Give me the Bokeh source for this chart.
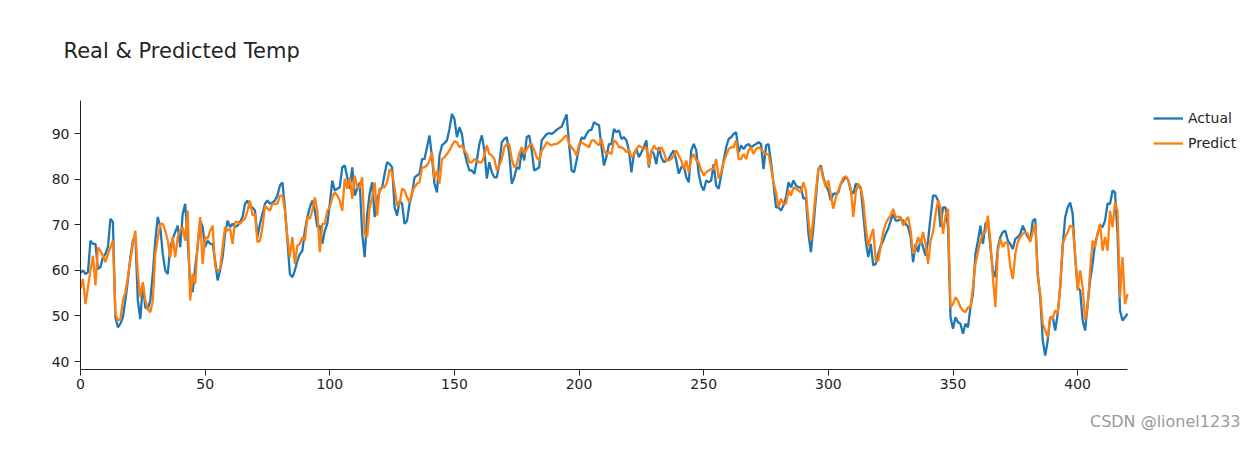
from bokeh.plotting import figure
from bokeh.models import Range1d, FixedTicker, Legend, LegendItem, Title
from bokeh.embed import file_html
from bokeh.resources import INLINE

title_text = "Real & Predicted Temp"
series_names = ["Actual", "Predict"]
x_ticks = [0, 50, 100, 150, 200, 250, 300, 350, 400]
y_ticks = [40, 50, 60, 70, 80, 90]
watermark = "CSDN @lionel1233"

actual = [
    59.4, 60.0, 59.2, 59.6, 66.5, 65.8, 65.8, 60.3, 60.7, 62.9,
    63.6, 65.1, 71.3, 70.6, 49.7, 47.5, 48.3, 49.7, 53.4, 57.8,
    62.9, 66.5, 67.6, 53.4, 49.3, 57.0, 51.9, 51.5, 53.4, 59.2,
    66.5, 71.7, 69.5, 63.6, 60.0, 59.2, 65.1, 66.9, 68.4, 69.8,
    65.1, 72.4, 74.6, 66.5, 57.0, 55.2, 60.7, 65.1, 70.9, 69.5,
    65.1, 66.5, 65.8, 65.8, 62.1, 57.8, 60.0, 62.9, 68.0, 70.9,
    69.5, 70.2, 69.5, 69.8, 70.6, 71.7, 74.6, 75.3, 73.8, 73.8,
    73.1, 67.3, 70.2, 72.4, 74.6, 75.3, 74.6, 74.9, 75.3, 76.4,
    78.6, 79.3, 73.8, 66.5, 59.2, 58.5, 60.0, 62.1, 63.6, 64.3,
    68.7, 71.7, 73.8, 75.3, 73.1, 69.5, 69.8, 65.8, 68.7, 70.2,
    74.6, 79.7, 77.5, 77.9, 78.2, 82.6, 83.0, 80.4, 77.9, 82.6,
    76.4, 77.9, 79.3, 68.0, 62.9, 72.4, 76.8, 79.3, 71.7, 75.3,
    77.5, 78.2, 81.2, 83.7, 83.3, 82.6, 73.8, 72.0, 75.3, 74.6,
    70.2, 70.9, 74.6, 76.8, 80.4, 80.8, 81.2, 84.4, 84.4, 87.0,
    89.6, 84.8, 79.0, 77.1, 85.2, 87.4, 87.9, 88.5, 91.0, 94.3,
    93.2, 89.2, 91.4, 89.9, 85.9, 83.7, 81.9, 81.9, 81.2, 84.1,
    87.7, 89.6, 86.3, 80.1, 83.7, 81.5, 80.4, 80.4, 83.3, 88.1,
    88.8, 89.2, 85.5, 79.0, 80.4, 82.6, 82.2, 86.3, 84.1, 89.2,
    89.6, 86.3, 81.9, 82.2, 82.6, 88.5, 89.2, 89.9, 90.1, 89.9,
    90.3, 90.8, 91.2, 91.5, 92.9, 94.2, 87.7, 81.9, 81.5, 84.1,
    87.0, 89.2, 88.8, 89.9, 90.7, 90.8, 92.5, 92.1, 91.8, 87.0,
    83.0, 85.0, 87.7, 87.7, 91.0, 90.3, 90.7, 88.8, 89.2, 88.5,
    86.3, 81.5, 85.5, 86.6, 84.8, 85.9, 87.0, 88.5, 82.6, 86.3,
    85.5, 83.3, 87.0, 84.8, 83.7, 84.1, 84.4, 85.5, 86.3, 84.1,
    81.2, 82.6, 83.0, 80.4, 79.3, 86.3, 87.7, 86.3, 81.2, 78.6,
    77.5, 79.7, 79.3, 79.7, 83.3, 78.6, 77.9, 80.8, 84.1, 87.0,
    88.8, 89.2, 89.9, 90.3, 85.9, 87.4, 86.6, 87.4, 87.7, 87.0,
    87.4, 87.7, 88.1, 87.7, 82.2, 87.4, 87.7, 83.7, 79.0, 73.8,
    73.8, 73.1, 74.2, 76.0, 79.3, 78.2, 79.7, 78.6, 78.2, 78.2,
    75.7, 76.0, 68.0, 64.0, 69.5, 76.0, 82.2, 83.0, 80.4, 78.6,
    77.5, 75.3, 76.8, 76.8, 77.1, 79.0, 79.7, 80.6, 79.7, 77.5,
    76.8, 79.0, 78.6, 77.9, 72.4, 66.5, 62.9, 65.8, 61.1, 61.4,
    63.6, 65.4, 66.5, 68.0, 69.1, 70.9, 72.4, 70.9, 70.9, 71.3,
    70.9, 70.2, 69.5, 67.3, 61.8, 65.8, 64.0, 66.9, 65.1, 63.2,
    66.5, 71.7, 76.4, 76.4, 75.3, 69.5, 73.8, 73.8, 69.5, 49.7,
    47.2, 49.7, 48.6, 48.3, 46.1, 48.3, 47.5, 51.9, 54.8, 63.6,
    66.5, 69.8, 65.8, 70.2, 70.9, 65.1, 60.0, 58.5, 65.1, 67.3,
    68.4, 68.7, 66.5, 65.8, 64.7, 66.9, 67.3, 68.0, 69.8, 68.4,
    67.3, 66.5, 70.9, 71.3, 59.2, 54.1, 44.6, 41.3, 44.6, 49.7,
    49.7, 46.8, 50.5, 56.3, 65.1, 71.7, 73.8, 74.9, 72.4, 62.9,
    56.3, 55.6, 49.0, 46.8, 52.6, 57.8, 61.4, 65.8, 68.0, 69.8,
    69.5, 70.9, 74.6, 74.6, 77.5, 77.1, 68.0, 51.2, 49.0, 49.7,
    50.5,
]

predict = [
    56.0, 58.1, 52.6, 56.3, 60.0, 63.2, 56.7, 65.0, 64.3, 63.2,
    61.8, 63.6, 65.0, 66.5, 50.4, 49.0, 49.3, 53.4, 55.2, 58.5,
    62.2, 65.8, 68.7, 59.2, 54.1, 57.4, 53.4, 51.5, 50.8, 53.4,
    63.6, 67.0, 70.2, 70.2, 68.7, 66.5, 62.9, 67.3, 62.9, 67.3,
    68.7, 69.5, 66.5, 73.1, 53.4, 59.2, 57.0, 65.8, 71.7, 61.4,
    67.3, 66.9, 68.7, 69.8, 60.7, 60.0, 60.3, 65.1, 69.5, 68.7,
    69.1, 65.8, 70.6, 70.6, 70.2, 70.9, 71.3, 73.1, 75.3, 72.0,
    72.4, 66.2, 66.5, 69.5, 74.2, 73.5, 73.1, 74.6, 74.6, 74.6,
    76.4, 76.4, 73.1, 67.3, 62.9, 67.3, 61.4, 65.4, 65.8, 67.3,
    66.5, 71.7, 71.3, 73.1, 76.0, 73.1, 64.0, 70.2, 70.2, 73.1,
    73.8, 76.0, 77.1, 76.4, 75.3, 73.1, 80.1, 77.9, 80.4, 75.7,
    80.8, 78.2, 78.2, 80.4, 68.0, 67.3, 73.8, 76.0, 79.3, 72.0,
    77.9, 78.2, 78.2, 79.3, 82.2, 81.5, 78.2, 74.2, 74.6, 77.9,
    77.5, 76.0, 75.0, 77.1, 78.2, 79.0, 79.3, 82.6, 82.6, 83.0,
    84.1, 85.9, 80.1, 81.9, 79.0, 84.4, 84.8, 85.5, 86.3, 87.4,
    88.3, 88.1, 87.0, 87.4, 86.3, 85.5, 83.7, 83.7, 84.4, 84.1,
    83.7, 83.7, 85.2, 87.4, 85.5, 85.2, 84.4, 81.9, 83.0, 84.4,
    87.0, 87.7, 87.7, 84.4, 82.6, 83.2, 85.5, 87.0, 85.5, 86.6,
    87.4, 87.7, 86.3, 84.8, 84.1, 86.3, 87.0, 88.1, 87.7, 87.4,
    87.7, 87.7, 88.1, 88.5, 89.2, 89.6, 87.7, 87.0, 86.3, 85.2,
    87.7, 88.1, 87.7, 87.4, 87.0, 88.5, 88.5, 87.9, 87.4, 88.8,
    86.3, 85.5, 85.9, 85.5, 88.5, 88.1, 87.0, 87.0, 86.6, 85.9,
    86.6, 84.8, 85.2, 86.6, 87.4, 87.0, 86.6, 87.0, 83.0, 85.9,
    87.4, 86.6, 86.3, 87.0, 85.9, 84.1, 84.1, 84.4, 85.2, 86.3,
    85.2, 84.1, 82.2, 84.1, 81.5, 84.4, 85.5, 84.1, 83.7, 81.9,
    80.8, 81.5, 81.9, 82.2, 82.2, 84.4, 80.1, 81.5, 83.7, 85.2,
    86.6, 87.0, 87.0, 88.5, 84.4, 84.4, 85.5, 84.4, 86.3, 87.0,
    85.5, 86.6, 87.0, 86.6, 85.9, 85.5, 85.5, 82.6, 79.3, 77.1,
    73.8, 75.7, 74.6, 74.6, 77.5, 76.4, 78.2, 77.9, 77.5, 77.1,
    79.3, 77.5, 70.9, 66.5, 71.7, 77.5, 82.2, 82.6, 80.1, 78.2,
    79.7, 76.4, 73.5, 76.0, 77.5, 79.0, 80.3, 80.6, 79.7, 77.9,
    71.7, 77.1, 79.0, 78.2, 75.3, 69.5, 65.2, 67.5, 69.1, 62.1,
    62.1, 65.1, 68.4, 70.2, 71.3, 72.0, 73.5, 71.7, 71.7, 71.7,
    69.8, 70.9, 71.7, 68.7, 63.6, 65.1, 67.3, 65.8, 68.4, 65.8,
    61.4, 66.5, 68.4, 72.4, 75.3, 73.8, 68.0, 72.0, 73.5, 51.9,
    52.6, 54.1, 53.3, 51.9, 51.2, 50.8, 51.9, 51.9, 56.3, 61.4,
    64.0, 66.5, 68.0, 68.4, 72.0, 66.5, 58.5, 51.9, 64.3, 66.9,
    65.1, 66.2, 65.8, 60.7, 58.1, 63.6, 66.2, 67.3, 68.0, 68.4,
    68.0, 66.2, 68.4, 70.2, 58.5, 54.8, 48.3, 46.8, 45.3, 49.7,
    49.4, 51.2, 50.5, 56.3, 65.8, 67.3, 68.4, 69.8, 69.5, 63.6,
    55.6, 60.0, 56.3, 49.0, 51.9, 60.0, 66.5, 65.1, 68.0, 70.2,
    64.3, 67.3, 64.3, 73.1, 69.5, 74.9, 73.1, 54.1, 62.9, 52.6,
    54.8,
]

index = list(range(len(actual)))

TEXT = "#242424"
FONT = "DejaVu Sans"

W, H = 1250, 450
# frame: x 0 at px 80, 420 at px 1127 ; extends to the right edge to host the legend
x_end = 420 * (W - 80) / 1047.0

p = figure(width=W, height=H, output_backend="svg", toolbar_location=None,
           x_range=Range1d(0, x_end), y_range=Range1d(38.25, 97.25),
           min_border_left=80, min_border_right=0, min_border_top=100,
           min_border_bottom=H - 369,
           title=Title(text=title_text, align="left", offset=-17, standoff=72,
                       vertical_align="top",
                       text_font_size="21px", text_font=FONT,
                       text_color=TEXT, text_font_style="normal"))
p.xgrid.visible = False
p.ygrid.visible = False
p.outline_line_color = None
p.background_fill_color = "white"
p.border_fill_color = "white"

for ax, ticks in ((p.xaxis, x_ticks), (p.yaxis, y_ticks)):
    ax.ticker = FixedTicker(ticks=ticks)
    ax.minor_tick_line_color = None
    ax.major_tick_out = 6
    ax.major_tick_in = 0
    ax.axis_line_color = TEXT
    ax.major_tick_line_color = TEXT
    ax.major_label_text_font_size = "14px"
    ax.major_label_text_font = FONT
    ax.major_label_text_color = TEXT
p.xaxis.bounds = (0, 420)
p.yaxis.major_label_standoff = 5
p.xaxis.major_label_standoff = 3

r1 = p.line(index, actual, line_color="#1f77b4", line_width=2.3)
r2 = p.line(index, predict, line_color="#ff7f0e", line_width=2.3)

legend = Legend(items=[LegendItem(label=series_names[0], renderers=[r1]),
                       LegendItem(label=series_names[1], renderers=[r2])],
                location=(1073, 216), margin=0, padding=0, spacing=5,
                glyph_width=30, glyph_height=20, label_height=20, label_standoff=5,
                label_text_font_size="14px", label_text_font=FONT,
                label_text_color=TEXT, border_line_alpha=0, background_fill_alpha=0)
p.add_layout(legend)

p.add_layout(Title(text=watermark, align="right", offset=10, standoff=37,
                   text_font_size="16px", text_font=FONT, text_color="#9a9a9a",
                   text_font_style="normal"), "below")

open("out.html", "w").write(file_html(p, INLINE))
